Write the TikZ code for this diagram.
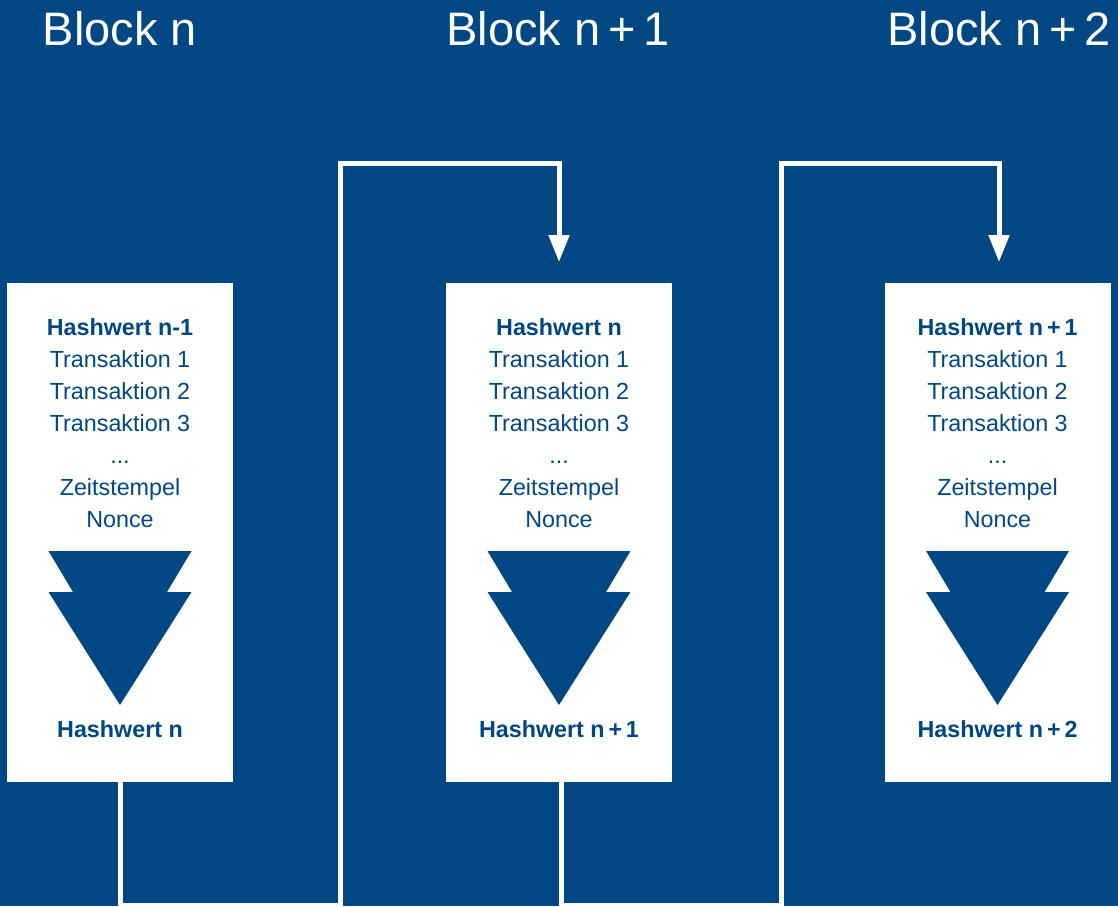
\documentclass[tikz,border=0pt]{standalone}
\usepackage{fontspec}
\setmainfont{Liberation Sans}
\usetikzlibrary{arrows.meta}
\definecolor{chainblue}{RGB}{0,71,132}

\begin{document}
\begin{tikzpicture}[x=1pt,y=-1pt,
  blockbox/.style={fill=white, draw=none, minimum width=226pt, minimum height=499pt,
    inner sep=0pt, anchor=north},
  entry/.style={text=chainblue, inner sep=0pt, anchor=base,
    font=\fontsize{23.3}{28}\selectfont},
  boldentry/.style={entry, font=\fontsize{23.3}{28}\selectfont\bfseries},
  headline/.style={text=white, inner sep=0pt, anchor=base,
    font=\fontsize{47}{52}\selectfont},
  hashdrop/.style={fill=chainblue, draw=none},
  link/.style={draw=white, line width=5pt, line join=miter},
  linkarrow/.style={link, -{Triangle[width=20pt,length=27pt]}, shorten >=21pt}]

% background and page frame
\fill[chainblue] (0,0) rectangle (1118,906);
\clip (0,0) rectangle (1118,906);

% block headings
\node[headline] (h1) at (120,45) {Block n};
\node[headline] (h2) at (558,45) {Block n\,+\,1};
\node[headline] (h3) at (999,45) {Block n\,+\,2};

% white block boxes
\node[blockbox] (b1) at (120,283) {};
\node[blockbox] (b2) at (559,283) {};
\node[blockbox] (b3) at (997.5,283) {};

% block contents
\foreach \cx/\hin/\hout/\k in {120/{n-1}/{n}/1, 559/{n}/{n\,+\,1}/2, 997.5/{n\,+\,1}/{n\,+\,2}/3}{
  \node[boldentry] (prev\k) at (\cx,335) {Hashwert \hin};
  \node[entry] (ta\k) at (\cx,367) {Transaktion 1};
  \node[entry] (tb\k) at (\cx,399) {Transaktion 2};
  \node[entry] (tc\k) at (\cx,431) {Transaktion 3};
  \node[entry] (dots\k) at (\cx,463) {...};
  \node[entry] (time\k) at (\cx,495) {Zeitstempel};
  \node[entry] (nonce\k) at (\cx,527) {Nonce};
  \fill[hashdrop] (\cx-71.5,551) -- (\cx+71.5,551) -- (\cx+47,592) -- (\cx+71.5,592)
    -- (\cx,705) -- (\cx-71.5,592) -- (\cx-47,592) -- cycle;
  \node[boldentry] (hash\k) at (\cx,737) {Hashwert \hout};
}

% chain links between the blocks
\coordinate (r1) at (340,905);
\coordinate (u1) at (340,163);
\coordinate (r2) at (781,905);
\coordinate (u2) at (781,163);

\draw[linkarrow] (b1.south) |- (r1) -- (u1) -| (b2.north);
\draw[linkarrow] ([xshift=2.5pt]b2.south) |- (r2) -- (u2) -| ([xshift=1.5pt]b3.north);
\end{tikzpicture}
\end{document}
